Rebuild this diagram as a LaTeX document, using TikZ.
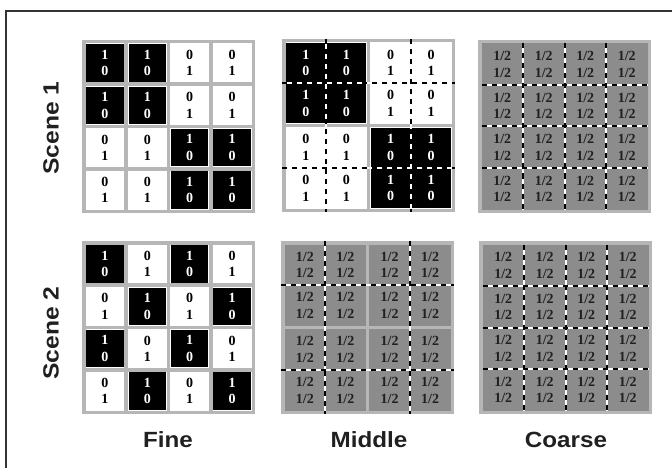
\documentclass[tikz,border=0pt]{standalone}
\usepackage{fontspec}
\setmainfont{Liberation Serif}
\newfontfamily\labfont{Liberation Sans}
\definecolor{ring}{HTML}{B6B6B6}
\definecolor{midgray}{HTML}{8C8C8C}
\definecolor{ink}{HTML}{202020}
\definecolor{framec}{HTML}{333333}
\tikzset{
  num/.style={font=\fontsize{14}{16.5}\selectfont\bfseries, align=center, inner sep=0pt},
  lab/.style={font=\labfont\bfseries\fontsize{22}{24}\selectfont, text=ink, inner sep=0pt},
  dashbase/.style={white, line width=2pt},
  dashtop/.style={black, line width=2pt, dash pattern=on 5pt off 5pt},
}
% grid geometry
\def\Gsz{173}
\def\Ggap{3.5}
\pgfmathsetmacro\Gp{(\Gsz-\Ggap)/4}
\pgfmathsetmacro\Gc{\Gp-\Ggap}
\pgfmathsetmacro\GP{(\Gsz-\Ggap)/2}
\pgfmathsetmacro\GB{\GP-\Ggap}
\pgfmathsetmacro\Gq{(\Gsz-2*\Ggap)/4}
% fine grid: #1,#2 origin; #3 = 0 block pattern, 1 checkerboard; #4 name
\newcommand\finegrid[4]{%
  \fill[ring] (#1,#2) rectangle ++(\Gsz,\Gsz);
  \foreach \r in {0,...,3}{\foreach \cc in {0,...,3}{%
    \ifnum#3=0
      \pgfmathtruncatemacro\blk{(floor(\r/2)==floor(\cc/2))?1:0}%
    \else
      \pgfmathtruncatemacro\blk{(mod(\r+\cc,2)==0)?1:0}%
    \fi
    \pgfmathsetmacro\xa{#1+\Ggap+\cc*\Gp}%
    \pgfmathsetmacro\ya{#2+\Ggap+\r*\Gp}%
    \ifnum\blk=1
      \fill[white] (\xa,\ya) rectangle ++(\Gc,\Gc);
      \fill[black] (\xa+0.8,\ya+0.8) rectangle ++(\Gc-1.6,\Gc-1.6);
      \node[num, text=white] (#4-\r-\cc) at (\xa+\Gc/2,\ya+\Gc/2) {1\\0};
    \else
      \fill[white] (\xa,\ya) rectangle ++(\Gc,\Gc);
      \node[num, text=black] (#4-\r-\cc) at (\xa+\Gc/2,\ya+\Gc/2) {0\\1};
    \fi
  }}%
}
\newcommand\vdashln[3]{% x, y0, y1
  \draw[dashbase] (#1,#2) -- (#1,#3);
  \draw[dashtop] (#1,#2) -- (#1,#3);
}
\newcommand\hdashln[3]{% y, x0, x1
  \draw[dashbase] (#2,#1) -- (#3,#1);
  \draw[dashtop] (#2,#1) -- (#3,#1);
}
% middle grid: #3 = 0 scene1 (black/white), 1 gray
\newcommand\midgrid[4]{%
  \fill[ring] (#1,#2) rectangle ++(\Gsz,\Gsz);
  \foreach \r in {0,1}{\foreach \cc in {0,1}{%
    \pgfmathsetmacro\xa{#1+\Ggap+\cc*\GP}%
    \pgfmathsetmacro\ya{#2+\Ggap+\r*\GP}%
    \ifnum#3=0
      \pgfmathtruncatemacro\blk{(\r==\cc)?1:0}%
      \ifnum\blk=1
        \fill[white] (\xa,\ya) rectangle ++(\GB,\GB);
        \fill[black] (\xa+0.8,\ya+0.8) rectangle ++(\GB-1.6,\GB-1.6);
      \else
        \fill[white] (\xa,\ya) rectangle ++(\GB,\GB);
      \fi
    \else
      \fill[midgray] (\xa,\ya) rectangle ++(\GB,\GB);
    \fi
  }}%
  \foreach \k in {0,1}{%
    \pgfmathsetmacro\xl{#1+\Ggap+\k*\GP+\GB/2}%
    \pgfmathsetmacro\yl{#2+\Ggap+\k*\GP+\GB/2}%
    \vdashln{\xl}{#2}{#2+\Gsz}
    \hdashln{\yl}{#1}{#1+\Gsz}
  }%
  \foreach \r in {0,...,3}{\foreach \cc in {0,...,3}{%
    \pgfmathtruncatemacro\br{floor(\r/2)}%
    \pgfmathtruncatemacro\bc{floor(\cc/2)}%
    \pgfmathsetmacro\xt{#1+\Ggap+\bc*\GP+(mod(\cc,2)+0.5)*\GB/2}%
    \pgfmathsetmacro\yt{#2+\Ggap+\br*\GP+(mod(\r,2)+0.5)*\GB/2}%
    \ifnum#3=0
      \ifnum\br=\bc
        \node[num, text=white] (#4-\r-\cc) at (\xt,\yt) {1\\0};
      \else
        \node[num, text=black] (#4-\r-\cc) at (\xt,\yt) {0\\1};
      \fi
    \else
      \node[num, text=ink] (#4-\r-\cc) at (\xt,\yt) {1/2\\1/2};
    \fi
  }}%
}
\newcommand\coarsegrid[3]{%
  \fill[ring] (#1,#2) rectangle ++(\Gsz,\Gsz);
  \fill[midgray] (#1+\Ggap,#2+\Ggap) rectangle ++(\Gsz-2*\Ggap,\Gsz-2*\Ggap);
  \foreach \k in {1,2,3}{%
    \pgfmathsetmacro\xl{#1+\Ggap+\k*\Gq}%
    \pgfmathsetmacro\yl{#2+\Ggap+\k*\Gq}%
    \vdashln{\xl}{#2+\Ggap}{#2+\Gsz-\Ggap}
    \hdashln{\yl}{#1+\Ggap}{#1+\Gsz-\Ggap}
  }%
  \foreach \r in {0,...,3}{\foreach \cc in {0,...,3}{%
    \pgfmathsetmacro\xt{#1+\Ggap+(\cc+0.5)*\Gq}%
    \pgfmathsetmacro\yt{#2+\Ggap+(\r+0.5)*\Gq}%
    \node[num, text=ink] (#3-\r-\cc) at (\xt,\yt) {1/2\\1/2};
  }}%
}
\begin{document}
\begin{tikzpicture}[x=1pt,y=-1pt]
\useasboundingbox (0,0) rectangle (672,468);
\fill[white] (0,0) rectangle (672,468);
\draw[framec, line width=1.4pt] (6,470) -- (6,11) -- (674,11);
\finegrid{82}{40}{0}{fa}
\midgrid{282}{39}{0}{ma}
\coarsegrid{478}{40}{ca}
\finegrid{82}{241}{1}{fb}
\midgrid{281}{241}{1}{mb}
\coarsegrid{479}{241}{cb}
\node[lab, rotate=90] (s1) at (51,128) {\scalebox{1.12}[1]{Scene 1}};
\node[lab, rotate=90] (s2) at (51,333) {\scalebox{1.12}[1]{Scene 2}};
\node[lab] (fine) at (168,440) {\scalebox{1.1}[1]{Fine}};
\node[lab] (middle) at (369,440) {\scalebox{1.1}[1]{Middle}};
\node[lab] (coarse) at (566,440) {\scalebox{1.1}[1]{Coarse}};
\end{tikzpicture}
\end{document}
